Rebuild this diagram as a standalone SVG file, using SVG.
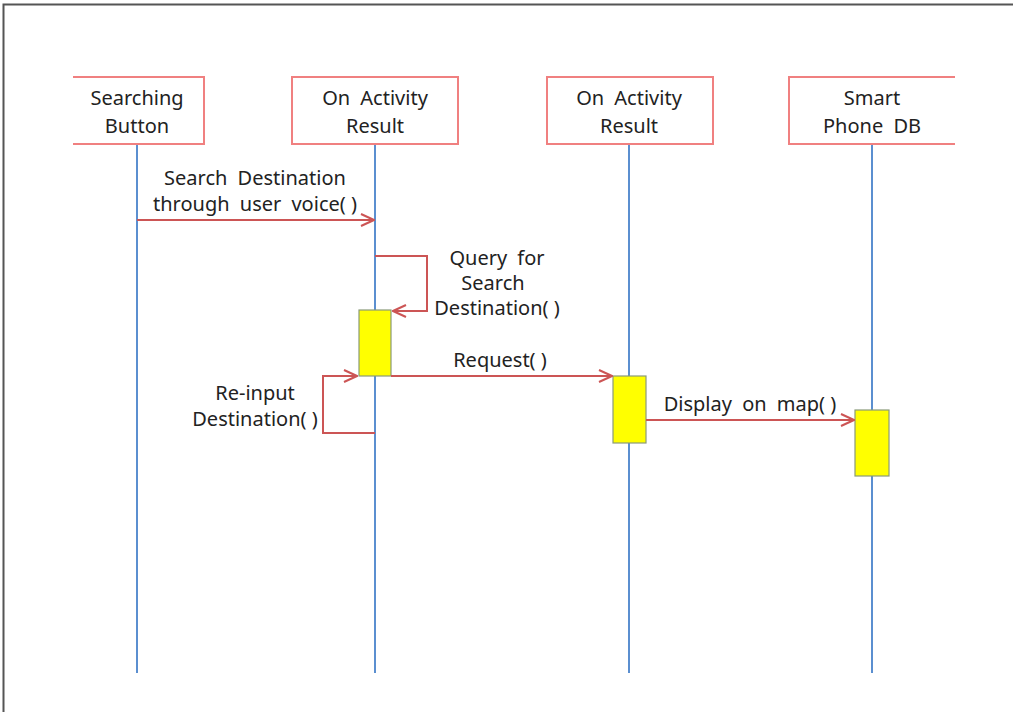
<svg xmlns="http://www.w3.org/2000/svg" width="1013" height="712" viewBox="0 0 1013 712">
<style>
.frame{fill:none;stroke:#555;stroke-width:2}
.box{fill:#fff;stroke:#f08080;stroke-width:2}
.life{stroke:#5b8fd0;stroke-width:2}
.msg{fill:none;stroke:#cc5555;stroke-width:2}
.act{fill:#ffff00;stroke:#8a9a7a;stroke-width:1.2}
text{font-family:"Noto Sans","Liberation Sans",Arial,sans-serif;font-size:20px;fill:#222;text-anchor:middle;word-spacing:5px}
.p{word-spacing:0}
</style>
<defs>
<marker id="arr" viewBox="0 0 16 16" refX="15" refY="8" markerWidth="16" markerHeight="16" markerUnits="userSpaceOnUse" orient="auto">
<path d="M2,2 L15,8 L2,14" fill="none" stroke="#cc5555" stroke-width="2"/>
</marker>
</defs>
<rect class="frame" x="3.5" y="4.5" width="1020" height="720"/>
<g id="lifelines">
<line class="life" x1="137" y1="144" x2="137" y2="673"/>
<line class="life" x1="375" y1="144" x2="375" y2="673"/>
<line class="life" x1="629" y1="144" x2="629" y2="673"/>
<line class="life" x1="872" y1="144" x2="872" y2="673"/>
</g>
<g id="node-searching-button">
<path class="box" d="M73,77 H204 V144 H73"/>
<text x="137" y="105">Searching</text>
<text x="137" y="133">Button</text>
</g>
<g id="node-on-activity-result-1">
<rect class="box" x="292" y="77" width="166" height="67"/>
<text x="375" y="105">On Activity</text>
<text x="375" y="133">Result</text>
</g>
<g id="node-on-activity-result-2">
<rect class="box" x="547" y="77" width="166" height="67"/>
<text x="629" y="105">On Activity</text>
<text x="629" y="133">Result</text>
</g>
<g id="node-smart-phone-db">
<path class="box" d="M955,77 H789 V144 H955"/>
<text x="872" y="105">Smart</text>
<text x="872" y="133">Phone DB</text>
</g>
<g id="activations">
<rect class="act" x="359" y="310" width="32" height="66"/>
<rect class="act" x="613" y="376" width="33" height="67"/>
<rect class="act" x="855" y="410" width="34" height="66"/>
</g>
<g id="connectors">
<line class="msg" x1="137" y1="220" x2="374" y2="220" marker-end="url(#arr)"/>
<path class="msg" d="M375,256 H427 V311 H393" marker-end="url(#arr)"/>
<line class="msg" x1="391" y1="376" x2="612" y2="376" marker-end="url(#arr)"/>
<path class="msg" d="M375,433 H323 V376 H357" marker-end="url(#arr)"/>
<line class="msg" x1="646" y1="420" x2="854" y2="420" marker-end="url(#arr)"/>
</g>
<g id="labels">
<text x="255" y="185">Search Destination</text>
<text x="255" y="211">through user voice<tspan class="p">( )</tspan></text>
<text x="497" y="265">Query for</text>
<text x="493" y="290">Search</text>
<text x="497" y="315" class="p">Destination( )</text>
<text x="500" y="367" class="p">Request( )</text>
<text x="255" y="400">Re-input</text>
<text x="255" y="426" class="p">Destination( )</text>
<text x="750" y="411">Display on map<tspan class="p">( )</tspan></text>
</g>
</svg>
